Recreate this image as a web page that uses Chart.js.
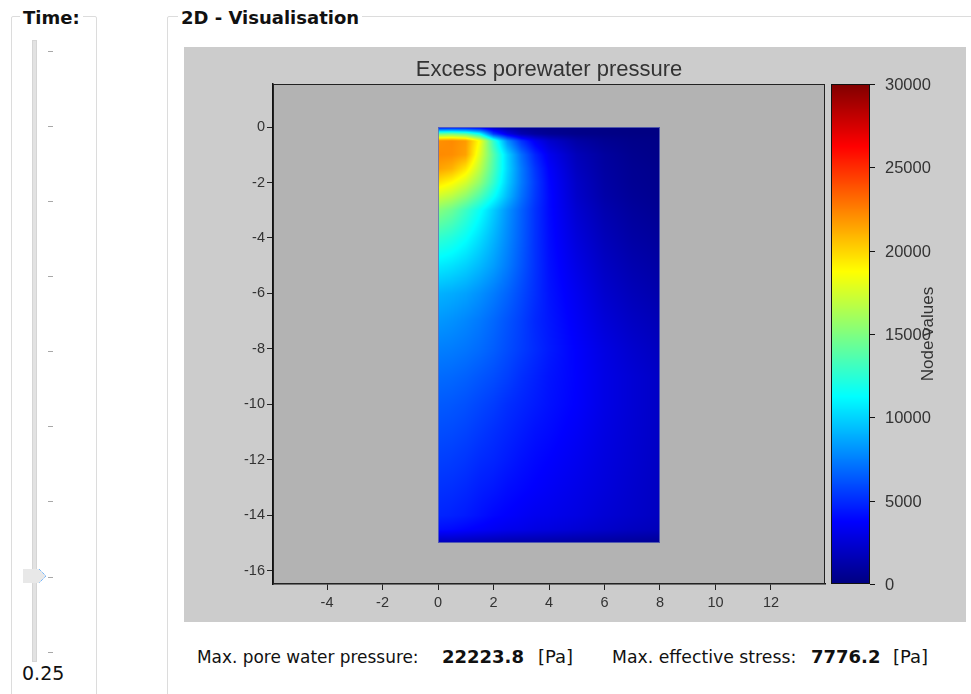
<!DOCTYPE html>
<html>
<head>
<meta charset="utf-8">
<script src="https://cdn.jsdelivr.net/npm/chart.js@4.4.1/dist/chart.umd.min.js"></script>
<style>
    html, body { margin: 0; padding: 0; }
    body { width: 971px; height: 694px; overflow: hidden; background: #fff; position: relative; font-family: "DejaVu Sans", sans-serif; color: #111; }
    .group { position: absolute; border: 1px solid #dcdcdc; border-radius: 2px; }
    .group-title { position: absolute; background: #fff; font-weight: bold; font-size: 18px; line-height: 20px; padding: 0 3px; white-space: nowrap; }
    .track { position: absolute; left: 32px; top: 40px; width: 3px; height: 620px; background: #e2e2e2; border: 1px solid #d5d5d5; }
    .tick { position: absolute; left: 48px; width: 5px; height: 1px; background: #a8a8a8; }
    .txt { position: absolute; font-size: 18px; line-height: 20px; white-space: nowrap; transform-origin: left center; }
    #wrap { position: absolute; left: 184px; top: 47px; width: 782px; height: 575px; }
</style>
</head>
<body>
<div class="group" style="left:11px; top:16px; width:84px; height:700px;"></div>
<div class="group-title" style="left:20px; top:8px;">Time:</div>
<div class="group" style="left:167px; top:16px; width:820px; height:700px;"></div>
<div class="group-title" style="left:178px; top:8px;">2D - Visualisation</div>

<div class="track"></div>
<div id="ticks"></div>
<svg style="position:absolute; left:22px; top:568px;" width="28" height="16">
    <polygon points="1,1 17,1 24,8 17,15 1,15" fill="#e8e8e8"></polygon>
    <polyline points="17,1 24,8 17,15" fill="none" stroke="#3d9bff" stroke-width="1" stroke-dasharray="1,1"></polyline>
</svg>
<div class="txt" style="left:22px; top:663px; font-size:19px;">0.25</div>

<div id="wrap"><canvas id="fieldChart" width="782" height="575"></canvas></div>

<div class="txt" style="left:197px; top:647px; transform:scaleX(0.94);">Max. pore water pressure:</div>
<div class="txt" style="left:442px; top:647px; font-weight:bold;">22223.8</div>
<div class="txt" style="left:538px; top:647px;">[Pa]</div>
<div class="txt" style="left:612px; top:647px; transform:scaleX(0.96);">Max. effective stress:</div>
<div class="txt" style="left:811px; top:647px; font-weight:bold;">7776.2</div>
<div class="txt" style="left:893px; top:647px;">[Pa]</div>

<script>
// grid nodes of the mesh (m)
const xNodes = [0, 0.5, 1, 1.5, 2, 2.5, 3, 3.5, 4, 5, 6, 7, 8];
const yNodes = [0, -0.25, -0.5, -1, -1.5, -2, -2.5, -3, -4, -5, -6, -7, -8, -9, -10, -11, -12, -13, -14, -14.5, -15];

// excess porewater pressure at the nodes (Pa), one row per depth
const d0    = [3200, 3200, 3100, 2800, 1800, 1000, 600, 400, 300, 200, 150, 100, 100];
const d0_25 = [14500, 14800, 14000, 11500, 5500, 3000, 1500, 900, 600, 300, 200, 120, 100];
const d0_5  = [22000, 22200, 21700, 18600, 12800, 8000, 5200, 3400, 2300, 1100, 550, 300, 200];
const d1    = [22200, 22100, 21500, 17800, 13800, 10000, 7000, 4800, 3300, 1700, 900, 450, 250];
const d1_5  = [21500, 21000, 19500, 16800, 13500, 10100, 7400, 5300, 3700, 1900, 1000, 550, 350];
const d2    = [19600, 18800, 17500, 15500, 12800, 9800, 7400, 5500, 3900, 2100, 1100, 600, 400];
const d2_5  = [17400, 16700, 15400, 13600, 11500, 9200, 7100, 5400, 4000, 2200, 1200, 700, 450];
const d3    = [15200, 14400, 13000, 11500, 9800, 8100, 6600, 5200, 4000, 2400, 1400, 850, 550];
const d4    = [12700, 12200, 11400, 10300, 9100, 7800, 6500, 5200, 4100, 2700, 1700, 1100, 800];
const d5    = [10700, 10400, 9900, 9200, 8400, 7400, 6300, 5200, 4200, 3000, 2000, 1400, 1050];
const d6    = [9000, 8800, 8500, 8000, 7400, 6700, 5900, 5100, 4300, 3300, 2300, 1700, 1300];
const d7    = [8200, 8000, 7700, 7300, 6800, 6200, 5600, 4900, 4400, 3500, 2600, 2000, 1600];
const d8    = [7500, 7400, 7200, 6900, 6500, 6000, 5500, 5000, 4500, 3700, 2900, 2300, 1850];
const d9    = [6900, 6800, 6600, 6300, 6000, 5600, 5100, 4700, 4300, 3750, 3000, 2500, 2050];
const d10   = [6400, 6300, 6100, 5800, 5500, 5100, 4800, 4500, 4200, 3700, 3000, 2500, 2050];
const d11   = [6000, 5900, 5700, 5400, 5100, 4800, 4500, 4200, 4000, 3500, 2900, 2450, 2050];
const d12   = [5600, 5500, 5300, 5000, 4800, 4500, 4200, 3950, 3750, 3300, 2800, 2400, 2000];
const d13   = [5200, 5100, 4900, 4600, 4400, 4100, 3900, 3700, 3500, 3100, 2700, 2300, 1950];
const d14   = [4800, 4700, 4500, 4200, 3900, 3700, 3500, 3300, 3200, 2900, 2500, 2200, 1900];
const d14_5 = [4100, 4000, 3800, 3600, 3400, 3200, 3100, 2900, 2800, 2500, 2200, 1900, 1700];
const d15   = [1600, 1600, 1500, 1400, 1300, 1200, 1100, 1100, 1000, 900, 800, 700, 600];

const xTicks = [-4, -2, 0, 2, 4, 6, 8, 10, 12];
const yTicks = [0, -2, -4, -6, -8, -10, -12, -14, -16];
const cbTicks = [0, 5000, 10000, 15000, 20000, 25000, 30000];
const cbMin = 0;
const cbMax = 30000;

const pressureRows = [d0, d0_25, d0_5, d1, d1_5, d2, d2_5, d3, d4, d5, d6, d7, d8, d9, d10, d11, d12, d13, d14, d14_5, d15];

// slider ticks
const tickBox = document.getElementById('ticks');
for (let i = 0; i < 9; i++) {
    const t = document.createElement('div');
    t.className = 'tick';
    t.style.top = (50.7 + 75.12 * i) + 'px';
    tickBox.appendChild(t);
}

const clamp01 = v => Math.min(1, Math.max(0, v));

// jet colour map
const jet = v => {
    const t = clamp01((v - cbMin) / (cbMax - cbMin));
    const r = clamp01(Math.min(4 * t - 1.5, -4 * t + 4.5));
    const g = clamp01(Math.min(4 * t - 0.5, -4 * t + 3.5));
    const b = clamp01(Math.min(4 * t + 0.5, -4 * t + 2.5));
    return [Math.round(r * 255), Math.round(g * 255), Math.round(b * 255)];
};

const locate = (arr, v) => {
    for (let i = 0; i < arr.length - 2; i++) {
        if ((v - arr[i]) * (v - arr[i + 1]) <= 0) return i;
    }
    return arr.length - 2;
};

const nodeValueAt = (xv, yv) => {
    const i = locate(xNodes, xv);
    const j = locate(yNodes, yv);
    const tx = clamp01((xv - xNodes[i]) / (xNodes[i + 1] - xNodes[i]));
    const ty = clamp01((yv - yNodes[j]) / (yNodes[j + 1] - yNodes[j]));
    const top = pressureRows[j][i] * (1 - tx) + pressureRows[j][i + 1] * tx;
    const bot = pressureRows[j + 1][i] * (1 - tx) + pressureRows[j + 1][i + 1] * tx;
    return top * (1 - ty) + bot * ty;
};

// backgrounds
const backgroundPlugin = {
    id: 'background',
    beforeDraw(chart) {
        const { ctx, chartArea: a } = chart;
        ctx.save();
        ctx.fillStyle = '#cccccc';
        ctx.fillRect(0, 0, chart.width, chart.height);
        ctx.fillStyle = '#b3b3b3';
        ctx.fillRect(a.left, a.top, a.width, a.height);
        ctx.restore();
    }
};

// node values drawn as a shaded field
const fieldPlugin = {
    id: 'field',
    beforeDatasetsDraw(chart) {
        const { ctx, scales: { x, y } } = chart;
        const x0 = Math.round(x.getPixelForValue(xNodes[0]));
        const x1 = Math.round(x.getPixelForValue(xNodes[xNodes.length - 1]));
        const y0 = Math.round(y.getPixelForValue(yNodes[0]));
        const y1 = Math.round(y.getPixelForValue(yNodes[yNodes.length - 1]));
        const w = x1 - x0, h = y1 - y0;
        const off = document.createElement('canvas');
        off.width = w;
        off.height = h;
        const octx = off.getContext('2d');
        const img = octx.createImageData(w, h);
        for (let j = 0; j < h; j++) {
            const yv = y.getValueForPixel(y0 + j + 0.5);
            for (let i = 0; i < w; i++) {
                const xv = x.getValueForPixel(x0 + i + 0.5);
                const c = jet(nodeValueAt(xv, yv));
                const k = (j * w + i) * 4;
                img.data[k] = c[0];
                img.data[k + 1] = c[1];
                img.data[k + 2] = c[2];
                img.data[k + 3] = 255;
            }
        }
        octx.putImageData(img, 0, 0);
        ctx.save();
        ctx.drawImage(off, x0, y0);
        ctx.strokeStyle = 'rgba(100, 110, 180, 0.8)';
        ctx.lineWidth = 1;
        ctx.strokeRect(x0 + 0.5, y0 + 0.5, w - 1, h - 1);
        ctx.restore();
    }
};

// frame + colour bar
const colorbarPlugin = {
    id: 'colorbar',
    afterDraw(chart) {
        const { ctx, chartArea: a } = chart;
        const cb = chart.scales.cb;
        ctx.save();
        ctx.strokeStyle = '#222';
        ctx.lineWidth = 1;
        ctx.strokeRect(a.left + 0.5, a.top + 0.5, a.width - 1, a.height - 1);

        const left = Math.round(a.right) + 6;
        const width = 39;
        const top = Math.round(cb.getPixelForValue(cbMax));
        const bottom = Math.round(cb.getPixelForValue(cbMin));
        for (let py = top; py < bottom; py++) {
            const c = jet(cb.getValueForPixel(py + 0.5));
            ctx.fillStyle = `rgb(${c[0]},${c[1]},${c[2]})`;
            ctx.fillRect(left, py, width, 1);
        }
        ctx.strokeStyle = '#111';
        ctx.strokeRect(left + 0.5, top + 0.5, width - 1, bottom - top - 1);

        ctx.font = '16.5px "Liberation Sans", Arial, sans-serif';
        ctx.fillStyle = '#333';
        ctx.textAlign = 'left';
        ctx.textBaseline = 'middle';
        cbTicks.forEach(v => {
            const py = Math.round(cb.getPixelForValue(v)) + 0.5;
            ctx.beginPath();
            ctx.moveTo(left + width, py);
            ctx.lineTo(left + width + 5, py);
            ctx.stroke();
            ctx.fillText(String(v), left + width + 15, py + 1);
        });

        ctx.translate(left + width + 58, (top + bottom) / 2);
        ctx.rotate(-Math.PI / 2);
        ctx.textAlign = 'center';
        ctx.font = '17px "Liberation Sans", Arial, sans-serif';
        ctx.fillText('Node values', 0, 0);
        ctx.restore();
    }
};

const tickFont = { family: '"Liberation Sans", Arial, sans-serif', size: 14.5 };

new Chart(document.getElementById('fieldChart'), {
    type: 'scatter',
    data: { datasets: [] },
    options: {
        responsive: false,
        animation: false,
        layout: { padding: { left: 0, right: 141, top: 0, bottom: 0 } },
        plugins: {
            legend: { display: false },
            tooltip: { enabled: false },
            title: {
                display: true,
                text: 'Excess porewater pressure',
                fullSize: false,
                color: '#333',
                font: { family: '"Liberation Sans", Arial, sans-serif', size: 22, weight: 'normal' },
                padding: { top: 10, bottom: 0.6 }
            }
        },
        scales: {
            x: {
                type: 'linear',
                min: -5.946,
                max: 13.946,
                afterFit: s => { s.height = 38; },
                afterBuildTicks: s => { s.ticks = xTicks.map(v => ({ value: v })); },
                grid: { drawOnChartArea: false, tickLength: 6, color: '#222' },
                border: { color: '#111', width: 1.5 },
                ticks: { font: tickFont, color: '#333', padding: 4, maxRotation: 0 }
            },
            y: {
                type: 'linear',
                min: -16.47,
                max: 1.55,
                afterFit: s => { s.width = 89; },
                afterBuildTicks: s => { s.ticks = yTicks.map(v => ({ value: v })); },
                grid: { drawOnChartArea: false, tickLength: 6, color: '#222' },
                border: { color: '#111', width: 1.5 },
                ticks: { font: tickFont, color: '#333', padding: 2 }
            },
            cb: {
                type: 'linear',
                axis: 'y',
                position: 'right',
                display: false,
                min: cbMin,
                max: cbMax
            }
        }
    },
    plugins: [backgroundPlugin, fieldPlugin, colorbarPlugin]
});
</script>
</body>
</html>
